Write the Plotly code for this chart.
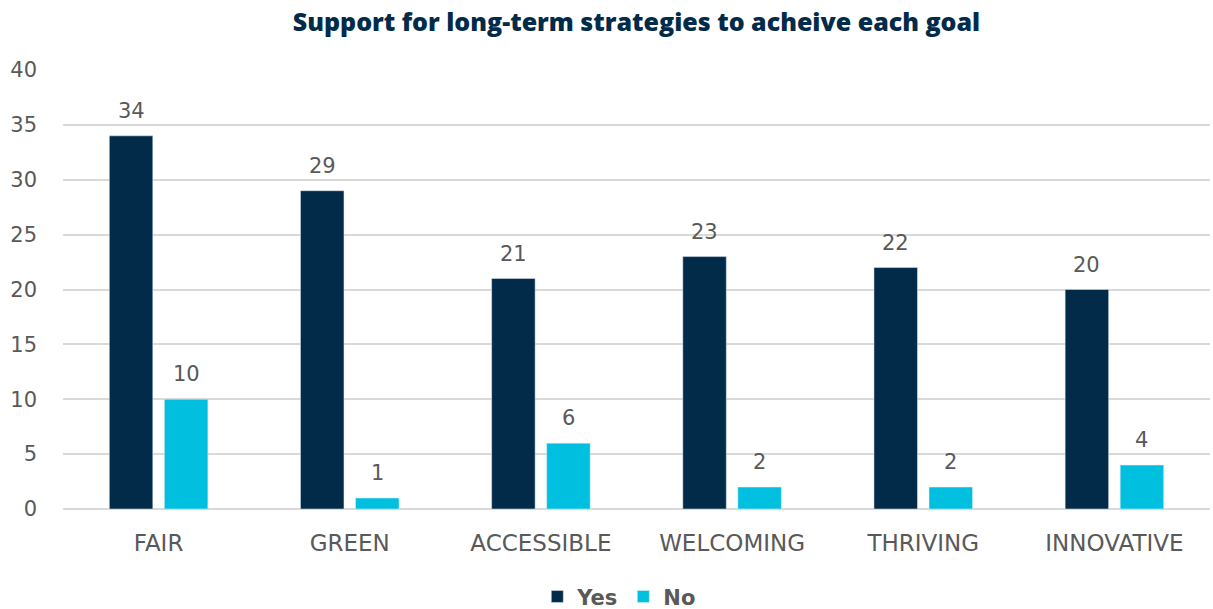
import plotly.graph_objects as go

categories = ["FAIR", "GREEN", "ACCESSIBLE", "WELCOMING", "THRIVING", "INNOVATIVE"]
yes_values = [34, 29, 21, 23, 22, 20]
no_values = [10, 1, 6, 2, 2, 4]
y_ticks = [0, 5, 10, 15, 20, 25, 30, 35, 40]

NAVY = "#022b4a"
CYAN = "#00bfdf"
TEXT = "#595959"
FONT = "'DejaVu Sans', sans-serif"
TITLE_FONT = "'Open Sans', sans-serif"

BARGAP = 0.424
# half the distance between the two bar centres within a category
HALF_STEP = (1 - BARGAP) / 4

fig = go.Figure()
fig.add_trace(go.Bar(x=categories, y=yes_values, name="Yes", marker_color=NAVY))
fig.add_trace(go.Bar(x=categories, y=no_values, name="No", marker_color=CYAN))

# value labels floating above each bar
for idx, (yv, nv) in enumerate(zip(yes_values, no_values)):
    for val, shift in ((yv, -HALF_STEP), (nv, HALF_STEP)):
        fig.add_annotation(
            x=idx + shift, y=val, xref="x", yref="y", text=str(val),
            showarrow=False, yanchor="bottom", yshift=11,
            font=dict(size=21, color=TEXT, family=FONT),
        )

fig.update_layout(
    width=1213, height=609,
    margin=dict(l=63, r=3, t=70, b=100, autoexpand=False),
    paper_bgcolor="white", plot_bgcolor="white",
    barmode="group", bargap=BARGAP, bargroupgap=0.21,
    font=dict(family=FONT, color=TEXT, size=20),
    showlegend=True,
    title=dict(
        text="Support for long-term strategies to acheive each goal",
        xref="paper", x=0.5, xanchor="center", y=0.963, yanchor="middle",
        font=dict(size=25, color=NAVY, family=TITLE_FONT, weight=800),
    ),
    legend=dict(
        orientation="h", x=0.485, xanchor="center", y=-0.2, yanchor="middle",
        font=dict(size=21, color=TEXT, family=FONT, weight="bold"),
        itemwidth=30, traceorder="normal",
    ),
    xaxis=dict(
        showgrid=False, showline=False, ticks="",
        tickfont=dict(size=23, color=TEXT, family=FONT),
        ticklabelstandoff=18,
    ),
    yaxis=dict(
        range=[0, 40], tickvals=y_ticks, showgrid=True,
        gridcolor="#d9d9d9", gridwidth=2, zeroline=True,
        zerolinecolor="#d9d9d9", zerolinewidth=2,
        tickfont=dict(size=21, color=TEXT, family=FONT),
        ticklabelstandoff=25,
    ),
)

fig.write_html("out.html")
